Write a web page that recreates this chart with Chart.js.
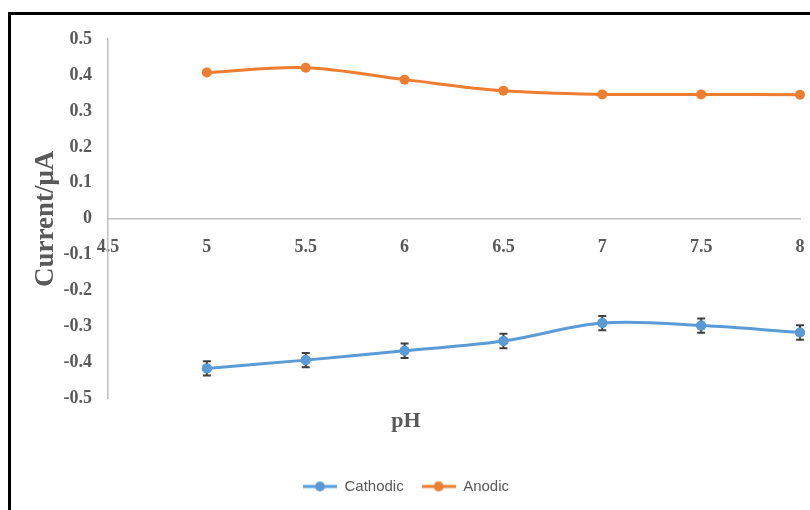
<!DOCTYPE html>
<html>
<head>
<meta charset="utf-8">
<script src="https://cdn.jsdelivr.net/npm/chart.js@4/dist/chart.umd.min.js"></script>
<style>
  html, body { margin: 0; padding: 0; background: #ffffff; overflow: hidden; }
  #wrap { position: relative; width: 810px; height: 510px; }
  #frame { position: absolute; left: 8px; top: 12px; width: 900px; height: 600px;
           border-top: 3px solid #000; border-left: 3px solid #000; pointer-events: none; }
  canvas { position: absolute; left: 0; top: 0; }
</style>
</head>
<body>
<div id="wrap">
  <canvas id="c" width="810" height="510"></canvas>
  <div id="frame"></div>
</div>
<script>
// pH values and measured peak currents (µA)
const phValues     = [5, 5.5, 6, 6.5, 7, 7.5, 8];
const cathodic     = [-0.416, -0.393, -0.367, -0.340, -0.290, -0.297, -0.316];
const anodic       = [0.407, 0.420, 0.387, 0.356, 0.346, 0.346, 0.345];
const cathodicErr  = [0.02, 0.02, 0.02, 0.02, 0.02, 0.02, 0.02];
const seriesNames  = ['Cathodic', 'Anodic'];

const BLUE = '#5B9BD5';
const ORANGE = '#ED7D31';
const TEXT = '#595959';
const SERIF = '"Liberation Serif", "Times New Roman", serif';

// legend symbol: short line with a round marker in the middle
function legendSymbol(color) {
  const cv = document.createElement('canvas');
  cv.width = 34; cv.height = 12;
  const g = cv.getContext('2d');
  g.strokeStyle = color; g.lineWidth = 3;
  g.beginPath(); g.moveTo(0, 6); g.lineTo(34, 6); g.stroke();
  g.fillStyle = color;
  g.beginPath(); g.arc(17, 6, 5, 0, Math.PI * 2); g.fill();
  return cv;
}

// vertical error bars with caps on the cathodic series
const errorBars = {
  id: 'errorBars',
  afterDatasetsDraw(chart) {
    const ctx = chart.ctx;
    const xs = chart.scales.x, ys = chart.scales.y;
    ctx.save();
    ctx.strokeStyle = '#404040';
    ctx.lineWidth = 2;
    phValues.forEach((p, i) => {
      const x = xs.getPixelForValue(p);
      const yTop = ys.getPixelForValue(cathodic[i] + cathodicErr[i]);
      const yBot = ys.getPixelForValue(cathodic[i] - cathodicErr[i]);
      ctx.beginPath();
      ctx.moveTo(x, yTop); ctx.lineTo(x, yBot);
      ctx.moveTo(x - 4, yTop); ctx.lineTo(x + 4, yTop);
      ctx.moveTo(x - 4, yBot); ctx.lineTo(x + 4, yBot);
      ctx.stroke();
    });
    // markers sit on top of the bars
    ctx.fillStyle = BLUE;
    phValues.forEach((p, i) => {
      const x = xs.getPixelForValue(p);
      const y = ys.getPixelForValue(cathodic[i]);
      ctx.beginPath(); ctx.arc(x, y, 5, 0, Math.PI * 2); ctx.fill();
    });
    ctx.restore();
  }
};

const symbols = [legendSymbol(BLUE), legendSymbol(ORANGE)];

new Chart(document.getElementById('c'), {
  type: 'line',
  data: {
    datasets: [
      {
        label: seriesNames[0],
        data: phValues.map((p, i) => ({ x: p, y: cathodic[i] })),
        borderColor: BLUE, backgroundColor: BLUE,
        borderWidth: 3, pointRadius: 5, pointHoverRadius: 5,
        pointBorderWidth: 0, tension: 0.35, clip: false
      },
      {
        label: seriesNames[1],
        data: phValues.map((p, i) => ({ x: p, y: anodic[i] })),
        borderColor: ORANGE, backgroundColor: ORANGE,
        borderWidth: 3, pointRadius: 5, pointHoverRadius: 5,
        pointBorderWidth: 0, tension: 0.35, clip: false
      }
    ]
  },
  options: {
    responsive: false,
    animation: false,
    layout: { padding: { top: 39, left: 12, right: 10, bottom: 6 } },
    scales: {
      x: {
        type: 'linear',
        position: { y: 0 },
        min: 4.5, max: 8,
        grid: { display: false, drawTicks: false },
        border: { display: true, color: '#BFBFBF', width: 1.5 },
        ticks: {
          stepSize: 0.5, padding: 18, color: TEXT,
          font: { family: SERIF, size: 18, weight: 'bold' },
          callback: (v) => String(v)
        },
        afterFit(scale) { scale.paddingLeft = 0; scale.paddingRight = 0; }
      },
      y: {
        position: 'left',
        min: -0.5, max: 0.5,
        grid: { display: false, drawTicks: false },
        border: { display: true, color: '#BFBFBF', width: 1.5 },
        ticks: {
          stepSize: 0.1, padding: 16, color: TEXT,
          font: { family: SERIF, size: 18, weight: 'bold' }
        },
        title: {
          display: true, text: 'Current/μA', color: TEXT,
          font: { family: SERIF, size: 27, weight: 'bold' },
          padding: { top: 18, bottom: 0 }
        },
        afterFit(scale) { scale.width = 96; }
      }
    },
    plugins: {
      title: {
        display: true, position: 'bottom', text: 'pH', color: TEXT,
        font: { family: SERIF, size: 22, weight: 'bold' },
        padding: { top: 10, bottom: 26 },
        weight: 500
      },
      legend: {
        position: 'bottom',
        labels: {
          usePointStyle: true, pointStyleWidth: 34, boxHeight: 12,
          color: TEXT, padding: 18,
          font: { family: '"Liberation Sans", Arial, sans-serif', size: 15 },
          generateLabels(chart) {
            return chart.data.datasets.map((ds, i) => ({
              text: ds.label, pointStyle: symbols[i], datasetIndex: i,
              fontColor: TEXT, lineWidth: 0, hidden: false
            }));
          }
        }
      },
      tooltip: { enabled: false }
    }
  },
  plugins: [errorBars]
});
</script>
</body>
</html>
